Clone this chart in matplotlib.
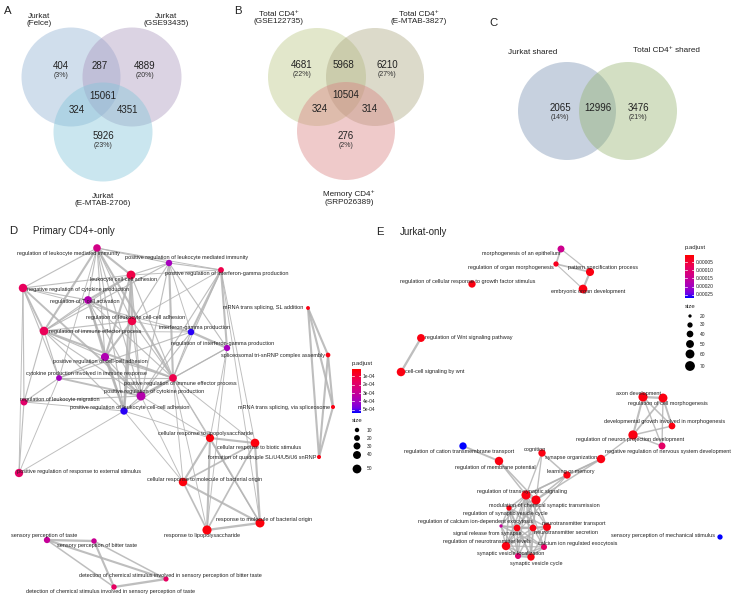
import matplotlib
matplotlib.use('Agg')
import matplotlib.pyplot as plt
import numpy as np
from matplotlib.patches import Circle
from matplotlib.colors import LinearSegmentedColormap, Normalize

plt.rcParams['font.family'] = ['Liberation Sans', 'DejaVu Sans']

# ------------------------------------------------------------------ Venn data
a_titles = ['Jurkat\n(Felce)', 'Jurkat\n(GSE93435)', 'Jurkat\n(E-MTAB-2706)']
a_counts = [404, 287, 4889, 15061, 324, 4351, 5926]
a_pcts = ['(3%)', '', '(20%)', '', '', '', '(23%)']

b_titles = ['Total CD4\u207a\n(GSE122735)', 'Total CD4\u207a\n(E-MTAB-3827)', 'Memory CD4\u207a\n(SRP026389)']
b_counts = [4681, 5968, 6210, 10504, 324, 314, 276]
b_pcts = ['(22%)', '', '(27%)', '', '', '', '(2%)']

c_titles = ['Jurkat shared', 'Total CD4\u207a shared']
c_counts = [2065, 12996, 3476]
c_pcts = ['(14%)', '', '(21%)']

# ------------------------------------------------------------------ network D
d_terms = ['regulation of leukocyte mediated immunity',
           'positive regulation of leukocyte mediated immunity',
           'positive regulation of interferon-gamma production',
           'leukocyte cell-cell adhesion',
           'negative regulation of cytokine production',
           'regulation of T cell activation',
           'regulation of leukocyte cell-cell adhesion',
           'regulation of immune effector process',
           'interferon-gamma production',
           'regulation of interferon-gamma production',
           'positive regulation of cell-cell adhesion',
           'cytokine production involved in immune response',
           'positive regulation of immune effector process',
           'positive regulation of cytokine production',
           'regulation of leukocyte migration',
           'positive regulation of leukocyte cell-cell adhesion',
           'positive regulation of response to external stimulus',
           'mRNA trans splicing, SL addition',
           'spliceosomal tri-snRNP complex assembly',
           'mRNA trans splicing, via spliceosome',
           'formation of quadruple SL/U4/U5/U6 snRNP',
           'cellular response to lipopolysaccharide',
           'cellular response to biotic stimulus',
           'cellular response to molecule of bacterial origin',
           'response to lipopolysaccharide',
           'response to molecule of bacterial origin',
           'sensory perception of taste',
           'sensory perception of bitter taste',
           'detection of chemical stimulus involved in sensory perception of bitter taste',
           'detection of chemical stimulus involved in sensory perception of taste']
d_padj = [2.6e-4, 3.9e-4, 1.3e-4, 1.2e-4, 1.6e-4, 3.5e-4, 1.2e-4, 1.5e-4, 5.2e-4, 3.9e-4,
          3.6e-4, 3.9e-4, 1.3e-4, 3.5e-4, 1.9e-4, 5.2e-4, 1.8e-4, 0.4e-4, 0.4e-4, 0.4e-4,
          0.4e-4, 0.3e-4, 0.3e-4, 0.3e-4, 0.3e-4, 0.3e-4, 3.0e-4, 2.9e-4, 1.7e-4, 1.7e-4]
d_size = [36, 25, 20, 50, 46, 38, 46, 48, 26, 24,
          42, 20, 38, 52, 30, 34, 44, 7, 12, 8,
          8, 42, 48, 46, 54, 52, 24, 17, 15, 17]
# layout coordinates (figure pixels)
d_x = [97, 169, 221, 131, 23, 88, 132, 44, 191, 227, 105, 59, 173, 141, 24, 124, 19,
       308, 328, 333, 319, 210, 255, 183, 207, 260, 47, 94, 166, 114]
d_y = [248, 263, 270, 275, 288, 300, 321, 331, 332, 348, 357, 378, 378, 396, 402, 411, 473,
       308, 355, 407, 457, 438, 443, 482, 530, 523, 540, 541, 579, 587]
d_lx = [68, 187, 227, 124, 78, 85, 136, 95, 195, 223, 100, 86, 180, 154, 60, 130, 79,
        263, 273, 284, 262, 205, 259, 205, 202, 264, 44, 97, 170, 110]
d_ly = [253, 258, 273, 280, 289, 302, 317, 331, 328, 344, 362, 374, 383, 392, 399, 407, 472,
        308, 356, 407, 457, 433, 448, 479, 535, 519, 536, 546, 576, 591]
d_edges = [(0, 1, .3), (0, 3, .8), (0, 4, .3), (0, 5, .3), (0, 6, .3), (0, 7, .8), (0, 10, .3),
           (0, 12, .8), (0, 13, .3), (0, 15, .3), (0, 11, .2), (0, 2, .2),
           (1, 2, .3), (1, 3, .3), (1, 6, .3), (1, 8, .2), (1, 9, .3), (1, 12, .8), (1, 13, .3), (1, 7, .3),
           (2, 8, .8), (2, 9, .8), (2, 12, .3), (2, 13, .3), (2, 3, .2), (2, 6, .2), (2, 22, .2), (2, 25, .2),
           (3, 4, .3), (3, 5, .8), (3, 6, .9), (3, 7, .3), (3, 10, .8), (3, 13, .3), (3, 15, .8), (3, 12, .3),
           (4, 5, .3), (4, 7, .7), (4, 11, .3), (4, 13, .7), (4, 14, .3), (4, 16, .2), (4, 8, .2),
           (5, 6, .8), (5, 7, .3), (5, 10, .8), (5, 13, .3), (5, 15, .7), (5, 12, .3),
           (6, 7, .3), (6, 10, .8), (6, 13, .3), (6, 15, .9), (6, 12, .3), (6, 8, .2),
           (7, 10, .3), (7, 11, .3), (7, 12, .8), (7, 13, .3), (7, 14, .3), (7, 15, .3), (7, 8, .2),
           (8, 9, .9), (8, 12, .3), (8, 13, .3), (8, 11, .3),
           (9, 12, .3), (9, 13, .3), (9, 21, .2), (9, 24, .2),
           (10, 11, .3), (10, 13, .3), (10, 15, .8), (10, 12, .3),
           (11, 12, .3), (11, 13, .7), (11, 14, .3), (11, 16, .2),
           (12, 13, .8), (12, 15, .3), (12, 21, .2), (12, 22, .2), (12, 23, .2), (12, 24, .2), (12, 25, .2),
           (13, 15, .3), (13, 14, .3), (13, 21, .2), (13, 23, .2),
           (14, 16, .3), (14, 15, .2), (15, 16, .2), (15, 21, .2), (15, 23, .2),
           (21, 22, .8), (21, 23, .8), (21, 24, .8), (21, 25, .6), (22, 23, .6), (22, 24, .6),
           (22, 25, .8), (23, 24, .6), (23, 25, .8), (24, 25, .9),
           (17, 18, .8), (17, 19, .8), (17, 20, .8), (18, 19, .8), (18, 20, .8), (19, 20, .8),
           (26, 27, .9), (26, 28, .8), (26, 29, .5), (27, 28, .5), (27, 29, .8), (28, 29, .9)]

# ------------------------------------------------------------------ network E
e_terms = ['regulation of cellular response to growth factor stimulus',
           'morphogenesis of an epithelium',
           'regulation of organ morphogenesis',
           'pattern specification process',
           'embryonic organ development',
           'regulation of Wnt signaling pathway',
           'cell-cell signaling by wnt',
           'axon development',
           'regulation of cell morphogenesis',
           'developmental growth involved in morphogenesis',
           'regulation of neuron projection development',
           'negative regulation of nervous system development',
           'regulation of cation transmembrane transport',
           'cognition',
           'regulation of membrane potential',
           'synapse organization',
           'learning or memory',
           'regulation of trans-synaptic signaling',
           'modulation of chemical synaptic transmission',
           'regulation of synaptic vesicle cycle',
           'regulation of calcium ion-dependent exocytosis',
           'signal release from synapse',
           'neurotransmitter secretion',
           'neurotransmitter transport',
           'regulation of neurotransmitter levels',
           'calcium ion regulated exocytosis',
           'synaptic vesicle localization',
           'synaptic vesicle cycle',
           'sensory perception of mechanical stimulus']
e_padj = [0.2e-4, 1.4e-4, 0.3e-4, 0.2e-4, 0.2e-4, 0.2e-4, 0.2e-4, 0.2e-4, 0.2e-4, 0.2e-4,
          0.2e-4, 0.9e-4, 2.7e-4, 0.2e-4, 0.2e-4, 0.2e-4, 0.2e-4, 0.2e-4, 0.2e-4, 0.2e-4,
          1.5e-4, 0.2e-4, 0.2e-4, 0.2e-4, 0.2e-4, 0.9e-4, 1.0e-4, 0.2e-4, 2.7e-4]
e_size = [45, 42, 30, 52, 58, 50, 56, 62, 60, 40,
          64, 42, 45, 45, 55, 55, 45, 62, 62, 30,
          20, 40, 40, 50, 55, 35, 35, 45, 30]
e_x = [472, 561, 556, 590, 583, 421, 401, 643, 663, 672, 633, 662, 463, 542, 499, 601, 567,
       526, 536, 509, 501, 517, 533, 547, 506, 544, 518, 531, 720]
e_y = [284, 249, 264, 272, 289, 338, 372, 397, 398, 426, 435, 446, 446, 453, 461, 459, 475,
       495, 500, 508, 526, 528, 528, 527, 546, 547, 556, 557, 537]
e_lx = [468, 521, 511, 603, 588, 469, 435, 638, 668, 665, 630, 668, 459, 535, 495, 571, 571,
        522, 544, 505, 476, 487, 566, 574, 487, 578, 511, 536, 663]
e_ly = [281, 253, 268, 268, 292, 338, 372, 394, 403, 422, 440, 451, 451, 449, 467, 458, 471,
        491, 505, 514, 522, 533, 533, 523, 542, 544, 553, 563, 535]
e_edges = [(5, 6, .9),
           (1, 2, .6), (2, 3, .6), (3, 4, .8), (1, 3, .3), (2, 4, .3),
           (7, 8, .9), (7, 9, .5), (7, 10, .8), (7, 11, .4), (8, 9, .7), (8, 10, .6), (8, 11, .4),
           (9, 10, .5), (10, 11, .5), (10, 15, .4),
           (12, 14, .7), (14, 17, .5), (14, 18, .5),
           (13, 16, .5), (13, 17, .4), (13, 18, .4),
           (15, 16, .6), (15, 17, .5), (15, 18, .5), (16, 17, .5), (16, 18, .5), (16, 24, .3),
           (17, 18, .9), (17, 19, .5), (17, 20, .4), (17, 21, .5), (17, 22, .5), (17, 23, .5),
           (17, 24, .5), (17, 25, .4), (17, 26, .4), (17, 27, .5),
           (18, 19, .5), (18, 21, .5), (18, 22, .5), (18, 23, .5), (18, 24, .5), (18, 27, .4),
           (19, 20, .5), (19, 21, .5), (19, 22, .5), (19, 23, .5), (19, 24, .5), (19, 26, .5), (19, 27, .6),
           (20, 21, .5), (20, 22, .5), (20, 24, .4), (20, 25, .6), (20, 26, .4),
           (21, 22, .9), (21, 23, .6), (21, 24, .5), (21, 25, .5), (21, 26, .5), (21, 27, .5),
           (22, 23, .8), (22, 24, .5), (22, 25, .5), (22, 26, .5), (22, 27, .5),
           (23, 24, .5), (23, 25, .5), (23, 27, .5),
           (24, 25, .4), (24, 26, .5), (24, 27, .5),
           (25, 26, .5), (25, 27, .5), (26, 27, .9)]

d_cbar_ticks = [1e-4, 2e-4, 3e-4, 4e-4, 5e-4]
d_cbar_labels = ['1e-04', '2e-04', '3e-04', '4e-04', '5e-04']
d_size_breaks = [10, 20, 30, 40, 50]
e_cbar_ticks = [0.00005, 0.00010, 0.00015, 0.00020, 0.00025]
e_cbar_labels = ['0.00005', '0.00010', '0.00015', '0.00020', '0.00025']
e_size_breaks = [20, 30, 40, 50, 60, 70]

# ------------------------------------------------------------------ styling
cmap = LinearSegmentedColormap.from_list(
    'padj', [(0, '#FF0000'), (0.25, '#EC0055'), (0.5, '#CE008D'),
             (0.75, '#A000C4'), (0.9, '#7000E6'), (1, '#0000FF')])
TXT = '#222222'
EDGE = '#b3b3b3'

fig = plt.figure(figsize=(7.4, 6.04), dpi=100)
ax = fig.add_axes([0, 0, 1, 1])
ax.set_xlim(0, 740)
ax.set_ylim(604, 0)
ax.axis('off')


def venn(centers, radius, colors, counts, pcts, pos, titles, tpos, alpha=0.42):
    for (cx, cy), col in zip(centers, colors):
        ax.add_patch(Circle((cx, cy), radius, facecolor=col, edgecolor='none', alpha=alpha, zorder=1))
    for n, p, (x, y) in zip(counts, pcts, pos):
        ax.text(x, y, str(n), ha='center', va='center', fontsize=7.0, color=TXT, zorder=3)
        if p:
            ax.text(x, y + 9.5, p, ha='center', va='center', fontsize=5.0, color='#333333', zorder=3)
    for t, (x, y) in zip(titles, tpos):
        ax.text(x, y, t, ha='center', va='center', fontsize=5.9, color=TXT, linespacing=1.15)


# Panel A
venn([(71, 77), (132, 77), (103, 132)], 49.5, ['#91b1d4', '#aa96be', '#82c5d9'],
     a_counts, a_pcts,
     [(61, 66), (100, 66), (145, 66), (103, 96), (77, 110), (128, 110), (103, 136)],
     a_titles, [(39, 20), (166, 20), (103, 200)])
# Panel B
venn([(317, 77), (375, 77), (346, 131)], 49, ['#bbc884', '#aca782', '#d98282'],
     b_counts, b_pcts,
     [(302, 65), (343, 65), (387, 65), (346, 95), (320, 109), (370, 109), (346, 136)],
     b_titles, [(279, 18), (419, 18), (349, 198)])
# Panel C
venn([(567, 111), (628, 111)], 49, ['#758eaf', '#91b16b'],
     c_counts, c_pcts, [(560, 108), (598, 108), (638, 108)],
     c_titles, [(533, 52), (666, 51)], alpha=0.40)

for lab, x, y in [('A', 8, 11), ('B', 238, 11), ('C', 494, 23), ('D', 13, 231), ('E', 380, 232)]:
    ax.text(x, y, lab, ha='center', va='center', fontsize=8.2, color=TXT)
ax.text(33, 231, 'Primary CD4+-only', ha='left', va='center', fontsize=6.9, color=TXT)
ax.text(400, 232, 'Jurkat-only', ha='left', va='center', fontsize=6.9, color=TXT)


def size_to_pts(v, vmin, dmin, vmax, dmax):
    d = np.sqrt(dmin ** 2 + (dmax ** 2 - dmin ** 2) * (np.asarray(v, float) - vmin) / (vmax - vmin))
    return (d * 0.72) ** 2


def network(terms, padj, size, xs, ys, lxs, lys, edges, norm, sz):
    for i, j, w in edges:
        ax.plot([xs[i], xs[j]], [ys[i], ys[j]], color=EDGE, lw=0.4 + 1.4 * w,
                alpha=0.85, solid_capstyle='round', zorder=1)
    ax.scatter(xs, ys, s=size_to_pts(size, *sz), c=padj, cmap=cmap, norm=norm,
               edgecolors='none', zorder=2)
    for t, x, y in zip(terms, lxs, lys):
        ax.text(x, y, t, ha='center', va='center', fontsize=3.95, color=TXT, zorder=3)


def legend(norm, ticks, labels, breaks, sz, x0, ytop, ybot, title_y, size_y0, size_ys):
    grad = np.linspace(0, 1, 200).reshape(-1, 1)
    ax.imshow(grad, cmap=cmap, extent=[x0, x0 + 9, ybot, ytop], aspect='auto', zorder=2)
    ax.text(x0, title_y, 'p.adjust', ha='left', va='center', fontsize=4.3, color=TXT)
    for v, lab in zip(ticks, labels):
        y = ytop + (v - norm.vmin) / (norm.vmax - norm.vmin) * (ybot - ytop)
        ax.plot([x0, x0 + 1.8], [y, y], color='white', lw=0.5, zorder=3)
        ax.plot([x0 + 7.2, x0 + 9], [y, y], color='white', lw=0.5, zorder=3)
        ax.text(x0 + 11, y, lab, ha='left', va='center', fontsize=3.5, color=TXT)
    ax.text(x0, size_y0, 'size', ha='left', va='center', fontsize=4.3, color=TXT)
    ax.scatter([x0 + 5] * len(breaks), size_ys, s=size_to_pts(breaks, *sz), color='black',
               edgecolors='none', zorder=2)
    for b, y in zip(breaks, size_ys):
        ax.text(x0 + 15, y, str(b), ha='left', va='center', fontsize=3.5, color=TXT)


d_norm = Normalize(vmin=0.1e-4, vmax=5.4e-4)
d_sz = (10, 4.4, 50, 8.8)
network(d_terms, d_padj, d_size, d_x, d_y, d_lx, d_ly, d_edges, d_norm, d_sz)
legend(d_norm, d_cbar_ticks, d_cbar_labels, d_size_breaks, d_sz,
       352, 369, 413, 363, 421, [430, 438, 446, 455, 469])

e_norm = Normalize(vmin=0.06e-4, vmax=2.7e-4)
e_sz = (20, 3.3, 70, 9.8)
network(e_terms, e_padj, e_size, e_x, e_y, e_lx, e_ly, e_edges, e_norm, e_sz)
legend(e_norm, e_cbar_ticks, e_cbar_labels, e_size_breaks, e_sz,
       685, 255, 298, 248, 306, [316, 325, 334, 344, 354, 366])

ax.set_xlim(0, 740)
ax.set_ylim(604, 0)
fig.savefig('out.png', dpi=100)
